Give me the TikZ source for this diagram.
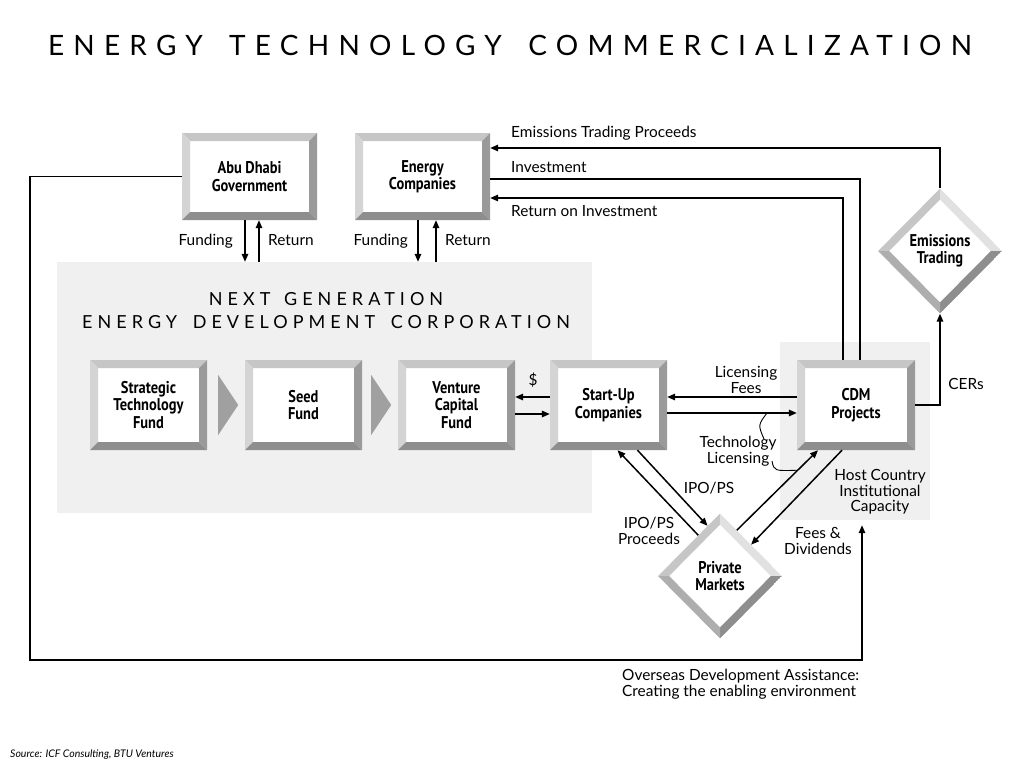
\documentclass[tikz,border=0pt]{standalone}
\usepackage{fontspec}
\setmainfont{Lato}
\newfontfamily\boxfont[FakeStretch=0.85]{PT Sans}
\newfontfamily\titlefont[LetterSpace=33]{Lato}
\newfontfamily\corpfont[LetterSpace=28]{Lato}
\usetikzlibrary{arrows.meta,shapes.geometric,calc}

\definecolor{panelgray}{HTML}{F0F0F0}
\definecolor{bevtop}{HTML}{C6C6C6}
\definecolor{bevleft}{HTML}{D4D4D4}
\definecolor{bevright}{HTML}{9A9A9A}
\definecolor{bevbottom}{HTML}{8E8E8E}
\definecolor{chevgray}{HTML}{A0A0A0}

% bevelled frame of a box
\newcommand\bevelbox{%
  \fill[bevtop] (path picture bounding box.north west) -- (path picture bounding box.north east)
    -- ([xshift=-8pt,yshift=-8pt]path picture bounding box.north east) -- ([xshift=8pt,yshift=-8pt]path picture bounding box.north west) -- cycle;
  \fill[bevleft] (path picture bounding box.north west) -- (path picture bounding box.south west)
    -- ([xshift=8pt,yshift=8pt]path picture bounding box.south west) -- ([xshift=8pt,yshift=-8pt]path picture bounding box.north west) -- cycle;
  \fill[bevright] (path picture bounding box.north east) -- (path picture bounding box.south east)
    -- ([xshift=-8pt,yshift=8pt]path picture bounding box.south east) -- ([xshift=-8pt,yshift=-8pt]path picture bounding box.north east) -- cycle;
  \fill[bevbottom] (path picture bounding box.south west) -- (path picture bounding box.south east)
    -- ([xshift=-8pt,yshift=8pt]path picture bounding box.south east) -- ([xshift=8pt,yshift=8pt]path picture bounding box.south west) -- cycle;
}
% bevelled frame of a diamond
\newcommand\beveldiamond{%
  \fill[bevtop] (path picture bounding box.west) -- (path picture bounding box.north)
    -- ([yshift=-11pt]path picture bounding box.north) -- ([xshift=11pt]path picture bounding box.west) -- cycle;
  \fill[bevleft!70!white] (path picture bounding box.north) -- (path picture bounding box.east)
    -- ([xshift=-11pt]path picture bounding box.east) -- ([yshift=-11pt]path picture bounding box.north) -- cycle;
  \fill[bevbottom] (path picture bounding box.east) -- (path picture bounding box.south)
    -- ([yshift=11pt]path picture bounding box.south) -- ([xshift=-11pt]path picture bounding box.east) -- cycle;
  \fill[bevright!80!white] (path picture bounding box.south) -- (path picture bounding box.west)
    -- ([xshift=11pt]path picture bounding box.west) -- ([yshift=11pt]path picture bounding box.south) -- cycle;
}

\tikzset{
  fundbox/.style={rectangle, fill=white, minimum width=#1, minimum height=90, inner sep=0pt,
    align=center, font=\boxfont\bfseries\fontsize{17}{17.5}\selectfont, path picture={\bevelbox}},
  tradediamond/.style={diamond, fill=white, minimum width=124, minimum height=125, inner sep=0pt,
    align=center, font=\boxfont\bfseries\fontsize{17}{17.5}\selectfont, path picture={\beveldiamond}},
  panel/.style={rectangle, fill=panelgray, inner sep=0pt},
  flow/.style={-{Triangle[length=8pt,width=6.5pt]}, line width=1.5pt},
  plain/.style={line width=1.5pt},
  callout/.style={line width=0.9pt},
  lbl/.style={font=\fontsize{15.4}{15.5}\selectfont, align=center, inner sep=1pt},
}

\begin{document}
\begin{tikzpicture}[x=1pt,y=-1pt]
	\fill[white] (0,0) rectangle (1024,768);
	\useasboundingbox (0,0) rectangle (1024,768);
	
	\node[font=\titlefont\fontsize{28}{28}\selectfont] (title) at (510,45) {ENERGY\hspace{10pt} TECHNOLOGY\hspace{10pt} COMMERCIALIZATION};
	
	% grey panels
	\node[panel, minimum width=535, minimum height=251] (nedc) at (324.5,387.5) {};
	\node[panel, minimum width=150, minimum height=178] (host) at (855,431) {};
	\node[font=\corpfont\fontsize{18}{18}\selectfont] (corp1) at (326,299) {NEXT\hspace{4pt} GENERATION};
	\node[font=\corpfont\fontsize{18}{18}\selectfont] (corp2) at (326,322) {ENERGY\hspace{6pt} DEVELOPMENT\hspace{6pt} CORPORATION};
	
	% boxes
	\node[fundbox=135, minimum height=87] (abu) at (249.5,176.5) {Abu Dhabi\\Government};
	\node[fundbox=135, minimum height=87] (enco) at (422.5,176.5) {Energy\\Companies};
	\node[fundbox=117] (stf) at (148.5,405) {Strategic\\Technology\\Fund};
	\node[fundbox=117] (seed) at (303.5,405) {Seed\\Fund};
	\node[fundbox=117] (vcf) at (456.5,405) {Venture\\Capital\\Fund};
	\node[fundbox=117] (startup) at (608.5,405) {Start-Up\\Companies};
	\node[fundbox=118] (cdm) at (856,405) {CDM\\Projects};
	\node[tradediamond] (emt) at (940,251) {Emissions\\Trading};
	\node[tradediamond] (pm) at (720,576) {Private\\Markets};
	
	% chevrons
	\fill[chevgray] ([xshift=11pt,yshift=30pt]stf.east) -- ([xshift=31pt]stf.east) -- ([xshift=11pt,yshift=-30pt]stf.east) -- cycle;
	\fill[chevgray] ([xshift=9pt,yshift=30pt]seed.east) -- ([xshift=29pt]seed.east) -- ([xshift=9pt,yshift=-30pt]seed.east) -- cycle;
	
	% funding and return
	\draw[flow] ([xshift=-4.5pt]abu.south) -- ([xshift=-4.5pt]abu.south |- nedc.north);
	\draw[flow] ([xshift=9.5pt]abu.south |- nedc.north) -- ([xshift=9.5pt]abu.south);
	\draw[flow] ([xshift=-4.5pt]enco.south) -- ([xshift=-4.5pt]enco.south |- nedc.north);
	\draw[flow] ([xshift=13.5pt]enco.south |- nedc.north) -- ([xshift=13.5pt]enco.south);
	\node[lbl, anchor=base east] (fund1) at (234,245) {Funding};
	\node[lbl, anchor=base west] (ret1) at (267,245) {Return};
	\node[lbl, anchor=base east] (fund2) at (409,245) {Funding};
	\node[lbl, anchor=base west] (ret2) at (444,245) {Return};
	
	% energy companies and CDM
	\draw[flow] (emt.north) |- ([yshift=28.5pt]enco.east);
	\draw[plain] ([yshift=-2.5pt]enco.east) -| ([xshift=4pt]cdm.north);
	\draw[flow] ([xshift=-13pt]cdm.north) |- ([yshift=-21.5pt]enco.east);
	\node[lbl, anchor=base west] (etp) at (510,137) {Emissions Trading Proceeds};
	\node[lbl, anchor=base west] (inv) at (510,172) {Investment};
	\node[lbl, anchor=base west] (roi) at (510,216) {Return on Investment};
	\draw[flow] (cdm.east) -| (emt.south);
	\node[lbl] (cers) at (966,384) {CERs};
	
	% dollars and licensing
	\draw[flow] ([yshift=8pt]startup.west) -- ([yshift=8pt]vcf.east);
	\draw[flow] ([yshift=-9pt]vcf.east) -- ([yshift=-9pt]startup.west);
	\node[lbl] (dollar) at (533,380) {\$};
	\draw[flow] ([yshift=8pt]cdm.west) -- ([yshift=8pt]startup.east);
	\draw[flow] ([yshift=-8pt]startup.east) -- ([yshift=-8pt]cdm.west);
	\node[lbl] (licfees) at (746,380) {Licensing\\Fees};
	\node[lbl] (techlic) at (738,451) {Technology\\Licensing};
	
	% private markets
	\coordinate (pmne) at ($(pm.north)!0.27!(pm.east)$);
	\coordinate (cdmsw) at ([xshift=-38pt]cdm.south);
	\draw[flow] ($(pm.west)!0.65!(pm.north)$) -- ([xshift=9pt]startup.south);
	\draw[flow] ([xshift=29pt]startup.south) -- ($(pm.west)!0.8!(pm.north)$);
	\draw[flow] (pmne) -- (cdmsw);
	\draw[flow] ([xshift=-14pt]cdm.south) -- ($(pm.north)!0.5!(pm.east)$);
	\node[lbl] (ipo) at (709,488) {IPO/PS};
	\node[lbl] (ipoproc) at (649,531) {IPO/PS\\Proceeds};
	\node[lbl] (fees) at (818,541) {Fees \&\\Dividends};
	\node[lbl] (hostcap) at (880,492) {Host Country\\Institutional\\Capacity};
	
	% callouts
	\coordinate (techtop) at (764,439);
	\coordinate (licend) at (772,461);
	\draw[callout] (techtop) .. controls (758,425) .. ($([yshift=-8pt]startup.east)!0.77!([yshift=-8pt]cdm.west)$);
	\draw[callout] (licend) .. controls (774,471) .. ($(pmne)!0.75!(cdmsw)$);
	
	% overseas development assistance
	\coordinate (odacorner) at (30,660);
	\draw[flow] (abu.west) -| (odacorner) -| ([xshift=7pt,yshift=-5pt]host.south);
	\node[lbl, anchor=north west, align=left] (oda) at (621,668) {Overseas Development Assistance:\\Creating the enabling environment};
	
	\node[anchor=west, inner sep=0pt, font=\itshape\fontsize{10.5}{11}\selectfont] (src) at (10,755) {Source: ICF Consulting, BTU Ventures};
	
\end{tikzpicture}
\end{document}
